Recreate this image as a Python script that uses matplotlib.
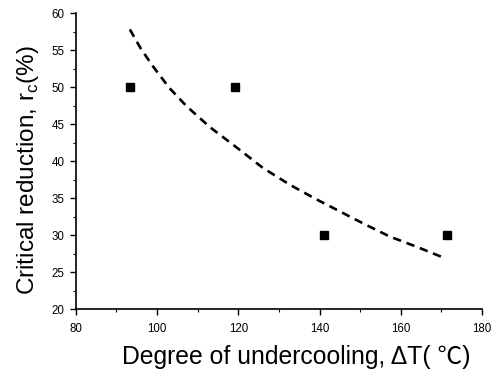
import matplotlib
matplotlib.use("Agg")
import matplotlib.pyplot as plt
from matplotlib.ticker import MultipleLocator

plt.rcParams['font.family'] = ['Liberation Sans', 'Noto Sans CJK SC', 'DejaVu Sans']

# measured data points
undercooling = [93.3, 119.2, 141.2, 171.3]
reduction = [50, 50, 30, 30]

# fitted curve
curve_x = [93.3, 96, 99, 103, 107.3, 113, 120.4, 126, 132.7, 139, 145, 151, 157.3, 164, 170.3]
curve_y = [57.8, 55.2, 52.8, 49.9, 47.4, 44.6, 41.5, 39.1, 36.8, 34.9, 33.2, 31.5, 29.8, 28.4, 27.0]

fig = plt.figure(figsize=(4.99, 3.76), dpi=100)
ax = fig.add_axes([0.152, 0.178, 0.814, 0.787])

ax.plot(curve_x, curve_y, color='black', linestyle=(0, (3.2, 2.2)), linewidth=1.9)
ax.plot(undercooling, reduction, linestyle='none', marker='s', color='black', markersize=6.3)

ax.set_xlim(80, 180)
ax.set_ylim(20, 60)
ax.xaxis.set_major_locator(MultipleLocator(20))
ax.xaxis.set_minor_locator(MultipleLocator(10))
ax.yaxis.set_major_locator(MultipleLocator(5))
ax.yaxis.set_minor_locator(MultipleLocator(2.5))

for s in ['top', 'right']:
    ax.spines[s].set_visible(False)
for s in ['left', 'bottom']:
    ax.spines[s].set_linewidth(1.2)

ax.tick_params(which='major', direction='out', length=4, width=1, labelsize=8.3)
ax.tick_params(axis='x', which='major', pad=6)
ax.tick_params(axis='y', which='major', pad=4)
ax.tick_params(which='minor', direction='out', length=2.5, width=0.8)

fig.text(0.593, 0.032, 'Degree of undercooling, ΔT( ℃)', fontsize=17.8,
         ha='center', va='baseline')
fig.text(0.056, 0.548, 'Critical reduction, r$_\\mathregular{c}$(%)', fontsize=17.5,
         ha='center', va='center', rotation=90)

fig.savefig('out.png', dpi=100)
